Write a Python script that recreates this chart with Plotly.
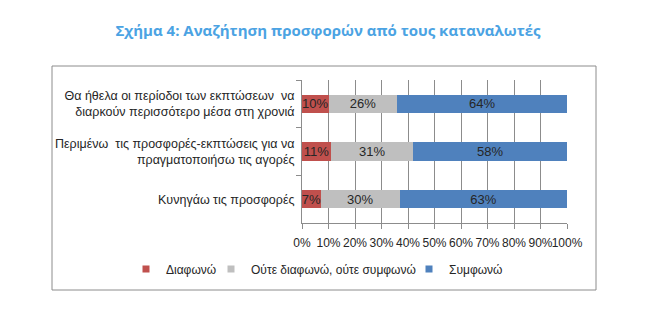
import plotly.graph_objects as go

categories = [
    "Θα ήθελα οι περίοδοι των εκπτώσεων  να<br>διαρκούν περισσότερο μέσα στη χρονιά",
    "Περιμένω  τις προσφορές-εκπτώσεις για να<br>πραγματοποιήσω τις αγορές",
    "Κυνηγάω τις προσφορές",
]
series_names = ["Διαφωνώ", "Ούτε διαφωνώ, ούτε συμφωνώ", "Συμφωνώ"]
diafono = [0.10, 0.11, 0.07]
oute = [0.26, 0.31, 0.30]
symfono = [0.64, 0.58, 0.63]
colors = ["#C0504D", "#BFBFBF", "#4F81BD"]
title_text = "Σχήμα 4: Αναζήτηση προσφορών από τους καταναλωτές"

L, R, T, B = 302, 89, 80, 109
pw = 656 - L - R
ph = 332 - T - B

def px(x):
    return (x - L) / pw

def py(y):
    return (332 - B - y) / ph

legend_ids = ["legend", "legend2", "legend3"]
legend_text_x = [166, 251, 449]  # where each legend label starts (px)

fig = go.Figure()
for name, vals, col in zip(series_names, [diafono, oute, symfono], colors):
    fig.add_trace(go.Bar(
        y=categories, x=vals, name=name, orientation="h",
        marker=dict(color=col, line=dict(width=0)),
        text=[f"{round(v*100)}%" for v in vals],
        textposition="inside", insidetextanchor="middle",
        constraintext="none",
        textfont=dict(family="Liberation Sans, Arial", size=13, color="#262626"),
        hoverinfo="skip", showlegend=False,
    ))
# legend entries (small square markers like the original)
for name, col, lid in zip(series_names, colors, legend_ids):
    fig.add_trace(go.Scatter(
        x=[None], y=[None], mode="markers", name=name, legend=lid,
        marker=dict(symbol="square", size=7, color=col),
        showlegend=True, hoverinfo="skip",
    ))

legend_common = dict(orientation="h", xref="paper", yref="paper", xanchor="left",
                     y=py(269), yanchor="middle",
                     font=dict(size=12, color="#262626"),
                     itemwidth=30, bgcolor="rgba(0,0,0,0)")

fig.update_layout(
    template="none",
    width=656, height=332,
    margin=dict(l=L, r=R, t=T, b=B, pad=0, autoexpand=False),
    barmode="stack", bargap=0.62,
    paper_bgcolor="white", plot_bgcolor="white",
    font=dict(family="Liberation Sans, Arial", size=12.5, color="#262626"),
    title=dict(text=title_text, x=0.5, xref="container", xanchor="center",
               y=1 - 31/332, yref="container", yanchor="middle",
               font=dict(family="Open Sans", size=15, color="#4BA3E3", weight="bold")),
    xaxis=dict(range=[0, 1], dtick=0.1, tickformat=".0%", showgrid=True,
               gridcolor="#8C8C8C", gridwidth=1, showline=True, linecolor="#8C8C8C",
               linewidth=1, mirror=False, automargin=False,
               ticks="outside", ticklen=5, tickcolor="#8C8C8C", tickwidth=1, zeroline=False,
               tickangle=0, ticklabelstandoff=4,
               tickfont=dict(size=12, color="#262626")),
    yaxis=dict(autorange="reversed", showline=True, linecolor="#8C8C8C", linewidth=1,
               ticks="outside", ticklen=5, tickcolor="#8C8C8C", tickwidth=1,
               tickson="boundaries", automargin=False,
               showgrid=False, zeroline=False, ticklabelstandoff=4,
               tickfont=dict(size=12.5, color="#262626")),
    legend=dict(legend_common, x=px(legend_text_x[0] - 40)),
    legend2=dict(legend_common, x=px(legend_text_x[1] - 40)),
    legend3=dict(legend_common, x=px(legend_text_x[2] - 40)),
    showlegend=True,
    shapes=[dict(type="rect", xref="paper", yref="paper",
                 x0=px(52), x1=px(596), y0=py(290), y1=py(66),
                 line=dict(color="#8C8C8C", width=1), layer="below")],
)

fig.write_html("out.html")
